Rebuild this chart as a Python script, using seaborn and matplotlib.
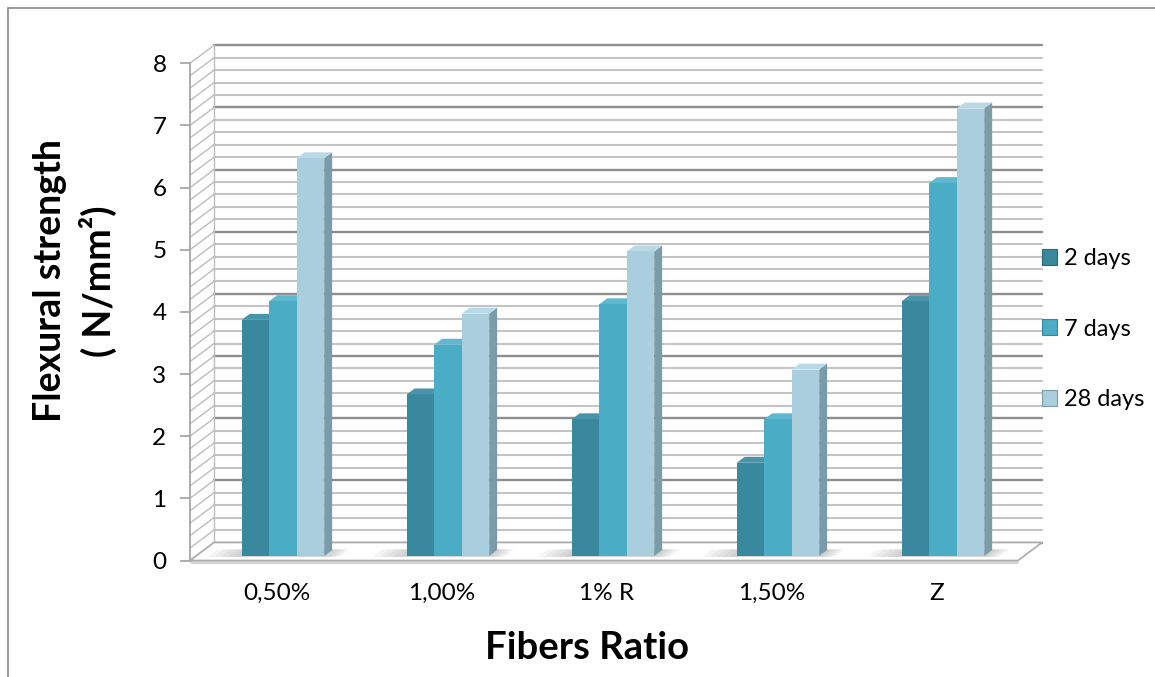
import numpy as np
import pandas as pd
import seaborn as sns
import matplotlib
matplotlib.use("Agg")
import matplotlib.pyplot as plt
from matplotlib.patches import Polygon, Patch
from matplotlib.lines import Line2D
from matplotlib.transforms import Affine2D, IdentityTransform

# ---- data ----
categories = ["0,50%", "1,00%", "1% R", "1,50%", "Z"]
series_names = ["2 days", "7 days", "28 days"]
strength_2d = [3.8, 2.6, 2.2, 1.5, 4.1]
strength_7d = [4.1, 3.4, 4.05, 2.2, 6.0]
strength_28d = [6.4, 3.9, 4.9, 3.0, 7.2]
y_ticks = [0, 1, 2, 3, 4, 5, 6, 7, 8]

# ---- styling ----
front_colors = ["#3A889E", "#4BACC6", "#A9CFDF"]
top_colors = ["#4895AA", "#5EB8CF", "#BAD9E6"]
side_colors = ["#2C6878", "#37869C", "#7A9BA8"]

df = pd.DataFrame({
    "Fibers Ratio": categories * len(series_names),
    "series": [s for s in series_names for _ in categories],
    "value": strength_2d + strength_7d + strength_28d,
})

sns.set_theme(style="white")
plt.rcParams["font.family"] = ["Lato", "DejaVu Sans"]
plt.rcParams["text.color"] = "black"

W, H = 1155, 677
fig = plt.figure(figsize=(W / 100, H / 100), dpi=100, facecolor="white")
ax = fig.add_axes([190 / W, (H - 560.5) / H, 828 / W, 497.2 / H])

sns.barplot(data=df, x="Fibers Ratio", y="value", hue="series",
            order=categories, hue_order=series_names, palette=front_colors,
            saturation=1, width=0.5, errorbar=None, linewidth=0,
            legend=False, ax=ax)

XMIN, XMAX = -0.527, 4.491
YMIN, YMAX = 0, 8
ax.set_xlim(XMIN, XMAX)
ax.set_ylim(YMIN, YMAX)
ax.set_autoscale_on(False)

# depth direction of the pseudo-3D box, in display pixels
DEPTH = np.array([24.0, 18.0])
BAR_FRONT = 0.25
BAR_BACK = 0.58


def px(x, y, d=0.0):
    return ax.transData.transform((x, y)) + d * DEPTH


def disp_line(p0, p1, **kw):
    ax.add_line(Line2D([p0[0], p1[0]], [p0[1], p1[1]],
                       transform=IdentityTransform(), clip_on=False, **kw))


def disp_poly(pts, **kw):
    ax.add_patch(Polygon(np.array(pts), closed=True,
                         transform=IdentityTransform(), clip_on=False, **kw))


# floor
disp_line(px(XMIN, 0) - [0, 1.5], px(XMAX, 0) - [0, 1.5],
          color="#D2D2D2", lw=2, zorder=1.3, solid_capstyle="butt")
disp_poly([px(XMIN, 0), px(XMAX, 0), px(XMAX, 0, 1), px(XMIN, 0, 1)],
          facecolor="white", edgecolor="#ABABAB", lw=1.2, zorder=1.4)

# back wall and side wall gridlines every 0.2
for v in np.round(np.arange(YMIN, YMAX + 0.001, 0.2), 1):
    major = abs(v - round(v)) < 1e-6
    disp_line(px(XMIN, v, 1), px(XMAX, v, 1),
              color="#8E8E8E" if major else "#C4C4C4",
              lw=1.7 if major else 1.5, zorder=1.1)
    disp_line(px(XMIN, v), px(XMIN, v, 1), color="#BDBDBD", lw=1.0, zorder=1.1)
disp_line(px(XMIN, YMIN, 1), px(XMIN, YMAX, 1), color="#BDBDBD", lw=1.0, zorder=1.1)

# soft shadows of the bar groups on the floor
for c in range(len(categories)):
    for k in range(5):
        ext = 0.04 * (k + 1)
        disp_poly([px(c - 0.25 - ext, 0, 0.2), px(c + 0.25 + 0.5 * ext, 0, 0.2),
                   px(c + 0.25 + 0.5 * ext, 0, 0.62), px(c - 0.25 - ext, 0, 0.62)],
                  facecolor="#7A7A7A", edgecolor="none", alpha=0.08, zorder=1.6)

# bars: shift the front faces into the box and add top and side faces
front_shift = Affine2D().translate(*(BAR_FRONT * DEPTH))
for i, cont in enumerate(ax.containers):
    for bar in cont:
        x0, w, h = bar.get_x(), bar.get_width(), bar.get_height()
        bar.set_transform(ax.transData + front_shift)
        bar.set_clip_on(False)
        bar.set_zorder(3 + i)
        disp_poly([px(x0 + w, 0, BAR_FRONT), px(x0 + w, 0, BAR_BACK),
                   px(x0 + w, h, BAR_BACK), px(x0 + w, h, BAR_FRONT)],
                  facecolor=side_colors[i], edgecolor="none", zorder=2.9 + i)
        disp_poly([px(x0, h, BAR_FRONT), px(x0 + w, h, BAR_FRONT),
                   px(x0 + w, h, BAR_BACK), px(x0, h, BAR_BACK)],
                  facecolor=top_colors[i], edgecolor="none", zorder=2.9 + i)

# axes decorations
for name in ("top", "right", "bottom"):
    ax.spines[name].set_visible(False)
ax.spines["left"].set_color("#A6A6A6")
ax.spines["left"].set_linewidth(1.3)
ax.set_yticks(y_ticks)
ax.set_yticklabels([str(t) for t in y_ticks])
ax.set_xticks(range(len(categories)))
ax.set_xticklabels(categories)
ax.tick_params(axis="y", left=True, length=7, width=1.2, color="#A0A0A0",
               pad=10, labelsize=17.5, labelcolor="black")
ax.tick_params(axis="x", bottom=False, length=0, pad=16, labelsize=17.5,
               labelcolor="black")
ax.set_xlabel("")
ax.set_ylabel("")
ax.grid(False)

fig.text(75 / W, 1 - 281 / H, "Flexural strength\n( N/mm²)", rotation=90,
         ha="center", va="center", fontsize=27, fontweight="bold",
         linespacing=1.4, multialignment="center", color="black")
fig.text(587 / W, 1 - 648 / H, "Fibers Ratio", ha="center", va="center",
         fontsize=27.5, fontweight="bold", color="black")

handles = [Patch(facecolor=front_colors[i], edgecolor=side_colors[i], linewidth=0.8)
           for i in range(len(series_names))]
fig.legend(handles, series_names, loc="center left",
           bbox_to_anchor=(1042 / W, 1 - 329 / H), frameon=False, fontsize=17,
           handlelength=0.65, handleheight=0.65, handletextpad=0.3,
           labelspacing=2.1, borderpad=0, borderaxespad=0, labelcolor="black")

# chart frame
fig.add_artist(Line2D([8 / W, 8 / W], [0, 1 - 8 / H], transform=fig.transFigure,
                      color="#8A8A8A", lw=1.2))
fig.add_artist(Line2D([8 / W, 1], [1 - 8 / H, 1 - 8 / H], transform=fig.transFigure,
                      color="#8A8A8A", lw=1.2))

fig.savefig("out.png", dpi=100, facecolor="white")
